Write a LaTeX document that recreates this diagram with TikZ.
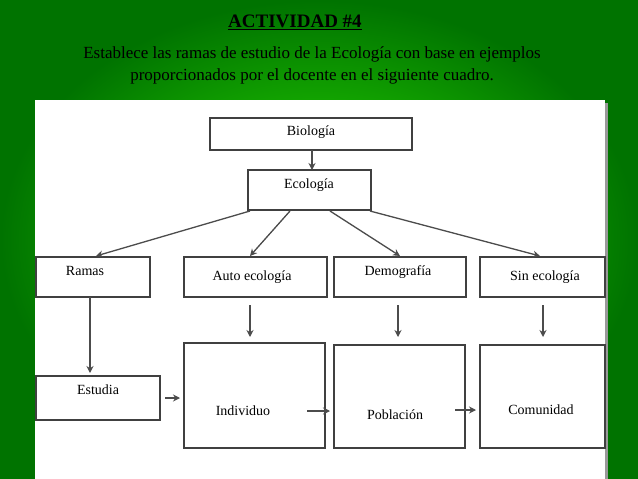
\documentclass[tikz,border=0pt]{standalone}
\usepackage{fontspec}
\setmainfont{Liberation Serif}
\usetikzlibrary{arrows.meta}
\begin{document}
\begin{tikzpicture}[x=1pt,y=-1pt,
  bx/.style={draw=black!75,line width=1.3pt,fill=white,inner sep=0pt},
  lbl/.style={font=\fontsize{14}{16}\selectfont},
  arr/.style={-{Stealth[length=7pt,width=7pt]},line width=1.3pt,draw=black!70}]
\useasboundingbox (0,0) rectangle (638,479);
\shade[inner color=green!75!lime!90!black, outer color=green!45!black] (0,0) rectangle (638,479);
\fill[black!40] (38,103) rectangle (608,479);
\fill[white] (35,100) rectangle (605,479);
\node[font=\bfseries\fontsize{19}{21}\selectfont] (t) at (295,22) {\underline{ACTIVIDAD \#4}};
\node[align=center,font=\fontsize{17}{22}\selectfont] (s) at (312,65) {Establece las ramas de estudio de la Ecología con base en ejemplos\\proporcionados por el docente en el siguiente cuadro.};
% boxes
\draw[bx] (210,118) rectangle (412,150);
\node[lbl] (bio) at (311,132) {Biología};
\draw[bx] (248,170) rectangle (371,210);
\node[lbl] (eco) at (309,185) {Ecología};
\draw[bx] (36,257) rectangle (150,297);
\node[lbl] (ram) at (85,271) {Ramas};
\draw[bx] (184,257) rectangle (327,297);
\node[lbl] (aut) at (252,277) {Auto ecología};
\draw[bx] (334,257) rectangle (466,297);
\node[lbl] (dem) at (398,272) {Demografía};
\draw[bx] (480,257) rectangle (605,297);
\node[lbl] (sin) at (545,277) {Sin ecología};
\draw[bx] (36,376) rectangle (160,420);
\node[lbl] (est) at (98,390) {Estudia};
\draw[bx] (184,343) rectangle (325,448);
\node[lbl] (ind) at (243,411) {Individuo};
\draw[bx] (334,345) rectangle (465,448);
\node[lbl] (pob) at (395,415) {Población};
\draw[bx] (480,345) rectangle (605,448);
\node[lbl] (com) at (541,410) {Comunidad};
% arrows
\coordinate (b1) at (312,150); \coordinate (e1) at (312,170);
\draw[arr] (b1) -- (e1);
\coordinate (e2) at (250,211); \coordinate (r1) at (96,256);
\draw[arr] (e2) -- (r1);
\coordinate (e3) at (290,211); \coordinate (a1) at (250,256);
\draw[arr] (e3) -- (a1);
\coordinate (e4) at (330,211); \coordinate (d1) at (400,256);
\draw[arr] (e4) -- (d1);
\coordinate (e5) at (370,211); \coordinate (s1) at (540,256);
\draw[arr] (e5) -- (s1);
\coordinate (r2) at (90,297); \coordinate (t1) at (90,373);
\draw[arr] (r2) -- (t1);
\coordinate (a2) at (250,305); \coordinate (i1) at (250,337);
\draw[arr] (a2) -- (i1);
\coordinate (d2) at (398,305); \coordinate (p1) at (398,337);
\draw[arr] (d2) -- (p1);
\coordinate (s2) at (543,305); \coordinate (c1) at (543,337);
\draw[arr] (s2) -- (c1);
\coordinate (t2) at (165,398); \coordinate (i2) at (180,398);
\draw[arr] (t2) -- (i2);
\coordinate (i3) at (307,411); \coordinate (p2) at (330,411);
\draw[arr] (i3) -- (p2);
\coordinate (p3) at (455,410); \coordinate (c2) at (476,410);
\draw[arr] (p3) -- (c2);
\end{tikzpicture}
\end{document}
